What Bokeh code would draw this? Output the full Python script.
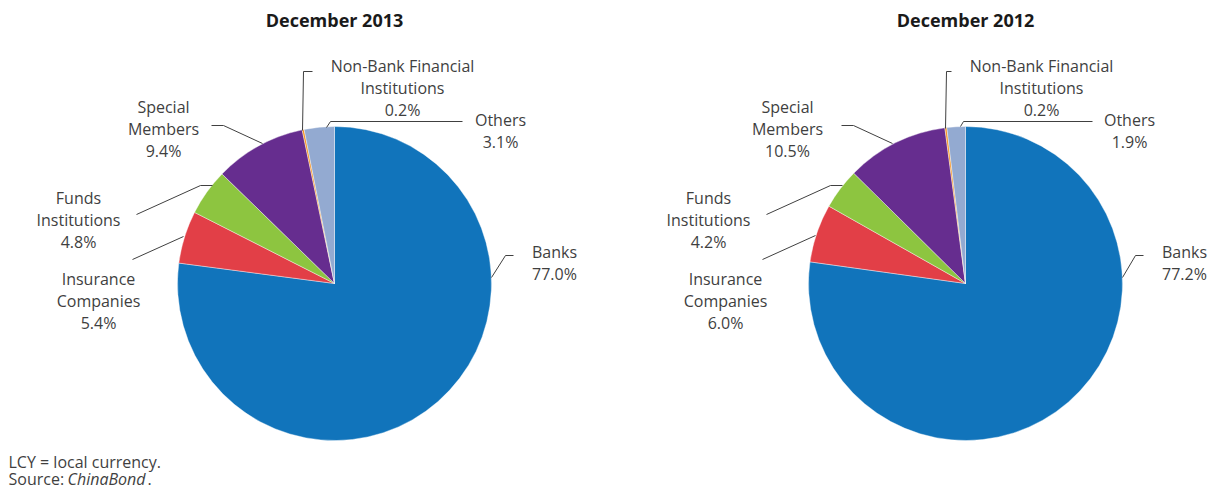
import numpy as np
from bokeh.plotting import figure
from bokeh.models import Range1d, ColumnDataSource
from bokeh.core.properties import value
from bokeh.embed import file_html
from bokeh.resources import INLINE

# ---------------- data ----------------
categories = ["Banks", "Insurance Companies", "Funds Institutions",
              "Special Members", "Non-Bank Financial Institutions", "Others"]
label_names = ["Banks", "Insurance\nCompanies", "Funds\nInstitutions",
               "Special\nMembers", "Non-Bank Financial\nInstitutions", "Others"]
share_2013 = [77.0, 5.4, 4.8, 9.4, 0.2, 3.1]
share_2012 = [77.2, 6.0, 4.2, 10.5, 0.2, 1.9]
titles = ["December 2013", "December 2012"]
footnote_1 = "LCY = local currency."
footnote_2 = ["Source:", "ChinaBond", "."]

# ---------------- style / layout ----------------
colors = ["#1174BB", "#E23F47", "#8DC540", "#662D8F", "#F6921E", "#93AAD1"]
TEXT_COLOR = "#3F3F3F"
FONT = "Open Sans"
W, H = 1210, 490
R = 157


def to_xy(X, Y):
    """Convert screenshot-pixel layout positions to plot coordinates."""
    return X, H - Y


pie_centers = [(334, 283), (965, 283)]
title_pos = [(334, 19), (965, 19)]
label_pos = [
    [(554, 262), (98, 300), (78, 219), (163, 128), (402, 87), (500, 130)],
    [(1184, 262), (725, 300), (708, 219), (787, 128), (1041, 87), (1129, 130)],
]
leaders = [
    [[(491, 277), (505, 255), (513, 255)],
     [(132, 259), (183, 236)],
     [(136, 214), (200, 185), (212, 185)],
     [(211, 125), (223, 125), (262, 143)],
     [(302, 130), (303, 71), (312, 71)],
     [(326, 127), (330, 121), (462, 121)]],
    [[(1122, 277), (1135, 255), (1143, 255)],
     [(762, 259), (815, 235)],
     [(766, 214), (830, 185), (842, 185)],
     [(841, 125), (853, 125), (892, 143)],
     [(945, 128), (946, 71), (951, 71)],
     [(960, 126), (963, 121), (1092, 121)]],
]

p = figure(width=W, height=H, x_range=Range1d(0, W), y_range=Range1d(0, H),
           output_backend="svg", toolbar_location=None, min_border=0,
           x_axis_location=None, y_axis_location=None)
p.grid.visible = False
p.outline_line_color = None
p.background_fill_color = "white"
p.border_fill_color = "white"

for k, shares in enumerate([share_2013, share_2012]):
    vals = np.array(shares, dtype=float)
    frac = vals / vals.sum()
    cum = np.concatenate([[0.0], np.cumsum(frac)])
    start = np.pi / 2 - 2 * np.pi * cum[:-1]
    end = np.pi / 2 - 2 * np.pi * cum[1:]
    cx, cy = to_xy(*pie_centers[k])
    src = ColumnDataSource(dict(cat=categories, start=start, end=end, color=colors,
                                x=[cx] * len(categories), y=[cy] * len(categories)))
    p.wedge(x="x", y="y", radius=R, start_angle="start", end_angle="end",
            direction="clock", fill_color="color", line_color="white",
            line_width=0.4, source=src)

    # leader lines
    xs, ys = [], []
    for poly in leaders[k]:
        pts = [to_xy(a, b) for a, b in poly]
        xs.append([q[0] for q in pts])
        ys.append([q[1] for q in pts])
    p.multi_line(xs=xs, ys=ys, line_color="#404040", line_width=1)

    # labels
    lx, ly, txt = [], [], []
    for i, name in enumerate(label_names):
        x, y = to_xy(*label_pos[k][i])
        lx.append(x)
        ly.append(y)
        txt.append(f"{name}\n{shares[i]:.1f}%")
    p.text(x=lx, y=ly, text=txt, text_align="center", text_baseline="middle",
           text_font=value(FONT), text_font_size="16px", text_color=TEXT_COLOR,
           text_line_height=1.0)

    # title
    tx, ty = to_xy(*title_pos[k])
    p.text(x=[tx], y=[ty], text=[titles[k]], text_align="center",
           text_baseline="middle", text_font=value(FONT), text_font_size="18px",
           text_font_style="bold", text_color="#1A1A1A")

# footnotes
fs = "16px"
fx, fy = to_xy(8, 461)
p.text(x=[fx], y=[fy], text=[footnote_1], text_align="left", text_baseline="middle",
       text_font=value(FONT), text_font_size=fs, text_color=TEXT_COLOR)
fx, fy = to_xy(8, 478)
p.text(x=[fx], y=[fy], text=[footnote_2[0]], text_align="left", text_baseline="middle",
       text_font=value(FONT), text_font_size=fs, text_color=TEXT_COLOR)
fx2, _ = to_xy(67, 478)
p.text(x=[fx2], y=[fy], text=[footnote_2[1]], text_align="left", text_baseline="middle",
       text_font=value(FONT), text_font_size=fs, text_font_style="italic",
       text_color=TEXT_COLOR)
fx3, _ = to_xy(147, 478)
p.text(x=[fx3], y=[fy], text=[footnote_2[2]], text_align="left", text_baseline="middle",
       text_font=value(FONT), text_font_size=fs, text_color=TEXT_COLOR)

open("out.html", "w").write(file_html(p, INLINE))
